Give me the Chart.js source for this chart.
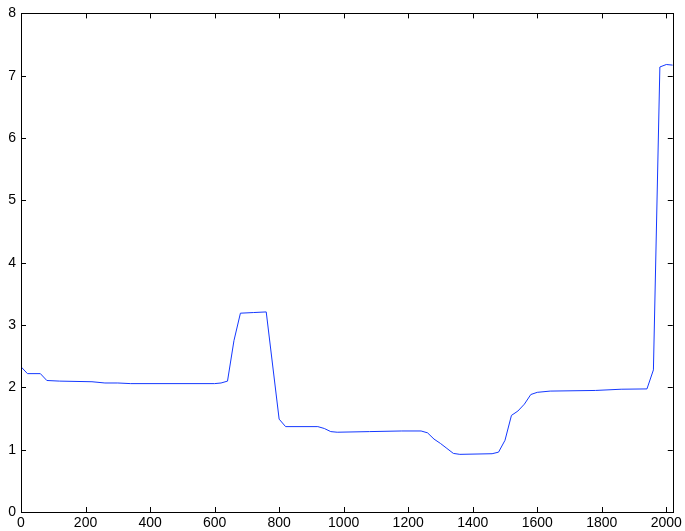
<!DOCTYPE html>
<html>
<head>
<meta charset="utf-8">
<script src="https://cdn.jsdelivr.net/npm/chart.js@4"></script>
<style>
    html, body { margin: 0; padding: 0; background: #fff; }
    #wrap { width: 685px; height: 531px; }
</style>
</head>
<body>
<div id="wrap"><canvas id="chart"></canvas></div>
<script>
const xValues = [0, 20, 60, 80, 120, 220, 260, 300, 340, 600, 620, 640, 660, 680, 720, 760,
    800, 820, 920, 940, 960, 980, 1080, 1180, 1240, 1260, 1280, 1300, 1320, 1340, 1360, 1460,
    1480, 1500, 1520, 1540, 1560, 1580, 1600, 1640, 1780, 1860, 1940, 1960, 1980, 2000, 2020];
const yValues = [2.33, 2.22, 2.22, 2.11, 2.10, 2.09, 2.07, 2.07, 2.06, 2.06, 2.07, 2.10, 2.75, 3.19, 3.20, 3.21,
    1.49, 1.37, 1.37, 1.34, 1.29, 1.28, 1.29, 1.30, 1.30, 1.27, 1.17, 1.10, 1.02, 0.94, 0.925, 0.935,
    0.96, 1.15, 1.55, 1.62, 1.73, 1.885, 1.92, 1.94, 1.95, 1.97, 1.975, 2.28, 7.14, 7.18, 7.17];
const xTicks = [0, 200, 400, 600, 800, 1000, 1200, 1400, 1600, 1800, 2000];
const yTicks = [0, 1, 2, 3, 4, 5, 6, 7, 8];

const points = xValues.map((x, i) => ({ x, y: yValues[i] }));

// frame with inward ticks on all four sides
const framePlugin = {
    id: 'frame',
    afterDraw(chart) {
        const { ctx, chartArea: a, scales } = chart;
        const len = 5;
        ctx.save();
        ctx.strokeStyle = '#000';
        ctx.lineWidth = 1;
        ctx.beginPath();
        xTicks.forEach((v) => {
            const px = Math.round(scales.x.getPixelForValue(v)) + 0.5;
            ctx.moveTo(px, a.bottom);
            ctx.lineTo(px, a.bottom - len);
            ctx.moveTo(px, a.top);
            ctx.lineTo(px, a.top + len);
        });
        yTicks.forEach((v) => {
            const py = Math.round(scales.y.getPixelForValue(v)) + 0.5;
            ctx.moveTo(a.left, py);
            ctx.lineTo(a.left + len, py);
            ctx.moveTo(a.right, py);
            ctx.lineTo(a.right - len, py);
        });
        ctx.stroke();
        ctx.strokeRect(Math.round(a.left) + 0.5, Math.round(a.top) + 0.5,
            Math.round(a.right - a.left), Math.round(a.bottom - a.top));
        ctx.restore();
    },
};

new Chart(document.getElementById('chart'), {
    type: 'line',
    data: {
        datasets: [{
            data: points,
            borderColor: '#1438ff',
            borderWidth: 1,
            pointRadius: 0,
            tension: 0,
            fill: false,
        }],
    },
    options: {
        responsive: true,
        maintainAspectRatio: false,
        animation: false,
        layout: { padding: { left: 0, right: 11, top: 13, bottom: 0 } },
        plugins: {
            legend: { display: false },
            tooltip: { enabled: false },
        },
        scales: {
            x: {
                type: 'linear',
                min: 0,
                max: 2020,
                afterBuildTicks: (scale) => {
                    scale.ticks = xTicks.map((value) => ({ value }));
                },
                afterFit: (scale) => { scale.height = 19; },
                grid: { display: false, drawTicks: false },
                border: { display: false },
                ticks: {
                    color: '#000',
                    padding: 3,
                    maxRotation: 0,
                    autoSkip: false,
                    callback: (value) => String(value),
                    font: { family: 'Liberation Sans', size: 14 },
                },
            },
            y: {
                type: 'linear',
                min: 0,
                max: 8,
                afterBuildTicks: (scale) => {
                    scale.ticks = yTicks.map((value) => ({ value }));
                },
                afterFit: (scale) => { scale.width = 21; },
                grid: { display: false, drawTicks: false },
                border: { display: false },
                ticks: {
                    color: '#000',
                    padding: 5,
                    callback: (value) => String(value),
                    font: { family: 'Liberation Sans', size: 14 },
                },
            },
        },
    },
    plugins: [framePlugin],
});
</script>
</body>
</html>
